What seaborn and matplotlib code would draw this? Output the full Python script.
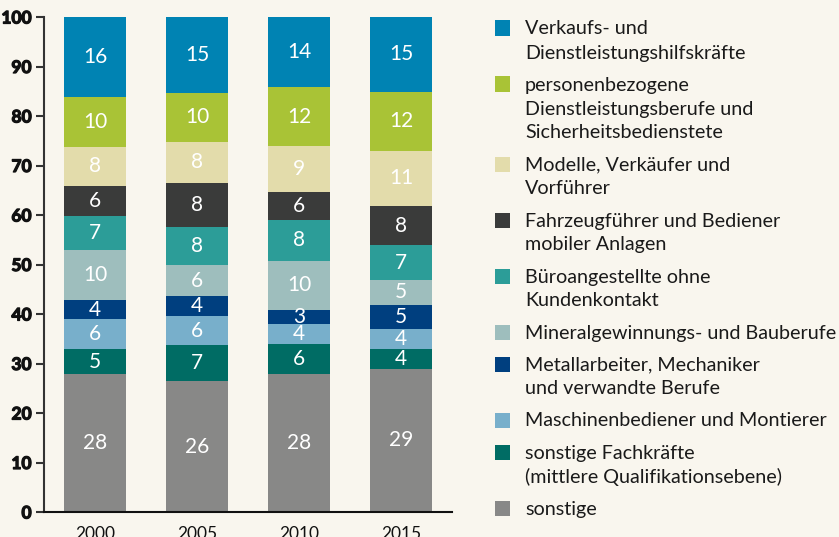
import matplotlib
matplotlib.use("Agg")
import matplotlib.pyplot as plt
import matplotlib.patches as mpatches
import matplotlib.patheffects as pe
import numpy as np
import pandas as pd
import seaborn as sns

years = ["2000", "2005", "2010", "2015"]

# bottom to top
categories = [
    "sonstige",
    "sonstige Fachkräfte\n(mittlere Qualifikationsebene)",
    "Maschinenbediener und Montierer",
    "Metallarbeiter, Mechaniker\nund verwandte Berufe",
    "Mineralgewinnungs- und Bauberufe",
    "Büroangestellte ohne\nKundenkontakt",
    "Fahrzeugführer und Bediener\nmobiler Anlagen",
    "Modelle, Verkäufer und\nVorführer",
    "personenbezogene\nDienstleistungsberufe und\nSicherheitsbedienstete",
    "Verkaufs- und\nDienstleistungshilfskräfte",
]
colors = ["#888887", "#006c64", "#78afcb", "#003f7f", "#9ebebd",
          "#2c9d98", "#3a3b3a", "#e3dcab", "#a9c336", "#0083b3"]

# segment heights as measured on the picture (percent)
share_2000 = [27.9, 5.0, 6.1, 3.8, 10.1, 6.9, 6.1, 7.9, 10.1, 16.1]
share_2005 = [26.4, 7.3, 5.9, 4.0, 6.2, 7.8, 8.9, 8.3, 9.9, 15.3]
share_2010 = [27.9, 6.0, 4.1, 2.8, 10.0, 8.1, 5.8, 9.2, 11.9, 14.2]
share_2015 = [28.9, 4.0, 4.0, 4.9, 5.1, 7.0, 7.9, 11.2, 11.9, 15.1]

# printed labels
label_2000 = [28, 5, 6, 4, 10, 7, 6, 8, 10, 16]
label_2005 = [26, 7, 6, 4, 6, 8, 8, 8, 10, 15]
label_2010 = [28, 6, 4, 3, 10, 8, 6, 9, 12, 14]
label_2015 = [29, 4, 4, 5, 5, 7, 8, 11, 12, 15]

y_ticks = list(range(0, 101, 10))

shares = np.array([share_2000, share_2005, share_2010, share_2015])
labels = np.array([label_2000, label_2005, label_2010, label_2015])

bg = "#f9f6ee"
sns.set_theme(style="white", rc={"axes.facecolor": bg, "figure.facecolor": bg})
plt.rcParams["font.family"] = ["Lato", "DejaVu Sans"]

fig = plt.figure(figsize=(8.39, 5.37), dpi=100)
ax = fig.add_axes([44 / 839, 1 - 512 / 537, (452 - 44) / 839, (512 - 17) / 537])

bottom = np.zeros(len(years))
for i, cat in enumerate(categories):
    df = pd.DataFrame({"year": years, "share": shares[:, i]})
    sns.barplot(data=df, x="year", y="share", bottom=bottom, color=colors[i],
                width=0.61, saturation=1, linewidth=0, ax=ax)
    ax.bar_label(ax.containers[-1], labels=[str(v) for v in labels[:, i]],
                 label_type="center", color="white", fontsize=15)
    bottom = bottom + shares[:, i]

ax.set_xlim(-0.5, 3.5)
ax.set_ylim(0, 100)
ax.set_yticks(y_ticks, labels=[str(t) for t in y_ticks], fontweight="bold",
              color="#111111", fontsize=12.5)
# fake a heavier weight in case no bold face is available
for t in ax.get_yticklabels():
    t.set_path_effects([pe.withStroke(linewidth=0.9, foreground="#111111")])
ax.set_xticks(range(len(years)), labels=years, fontsize=12.5, color="#111111")
ax.set_xlabel("")
ax.set_ylabel("")
for sp in ["top", "right"]:
    ax.spines[sp].set_visible(False)
ax.spines["left"].set_color("#333333")
ax.spines["left"].set_linewidth(1.5)
ax.spines["bottom"].set_color("#111111")
ax.spines["bottom"].set_linewidth(1.5)
ax.tick_params(axis="y", left=True, length=6, width=1.5, color="#333333", pad=3)
ax.tick_params(axis="x", bottom=False, pad=4)

# legend, top to bottom
W, H = 839, 537
y = 28
for i in range(len(categories) - 1, -1, -1):
    lines = categories[i].split("\n")
    fig.add_artist(mpatches.Rectangle((495 / W, 1 - (y + 7.5) / H), 15 / W, 15 / H,
                                      transform=fig.transFigure, color=colors[i], lw=0))
    for k, line in enumerate(lines):
        fig.text(525 / W, 1 - (y + 24 * k + 6.5) / H, line, fontsize=14.2,
                 color="#1a1a1a", va="baseline", ha="left")
    y += 24 * len(lines) + 8

fig.savefig("out.png", dpi=100, facecolor=bg)
